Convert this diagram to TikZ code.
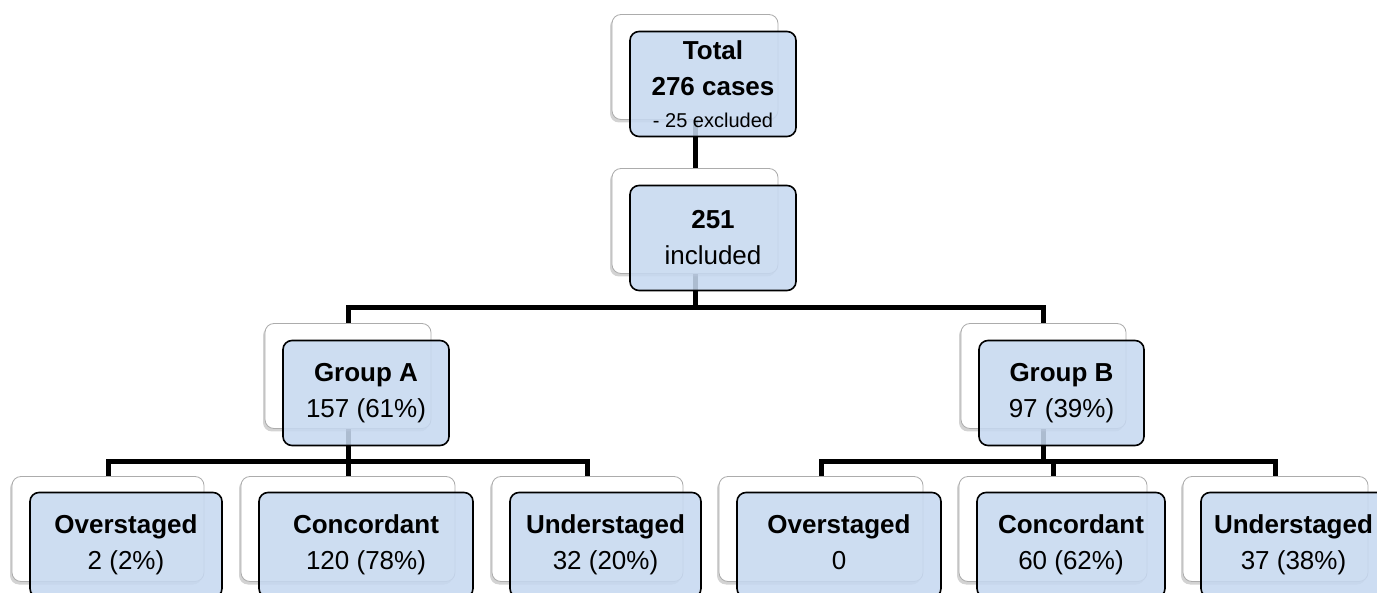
\documentclass[tikz,border=0pt]{standalone}
\usepackage{fontspec}
\setmainfont{Liberation Sans}
\usetikzlibrary{positioning, shadows}
\definecolor{boxblue}{RGB}{198,216,240}
\pgfdeclarelayer{background}
\pgfsetlayers{background,main}

\begin{document}
\begin{tikzpicture}[x=1pt,y=-1pt,font=\fontsize{26}{36}\selectfont]

		\tikzset{node back/.style={rectangle, rounded corners=9pt,
				draw=gray!65, line width=0.8pt,
				fill=white, minimum height=105pt,
				drop shadow={shadow xshift=-2pt, shadow yshift=-3pt, opacity=0.35}}}
		\tikzset{node front/.style={rectangle, rounded corners=9pt,
				draw=black, line width=1.6pt,
				fill=boxblue, fill opacity=0.87, text opacity=1,
				minimum height=105pt, inner sep=0pt, align=center}}
		\tikzset{link/.style={draw=black, line width=5pt}}

	\useasboundingbox (0,0) rectangle (1377,593);
	\clip (0,0) rectangle (1377,593);

	% back boxes
	\node[node back, minimum width=166pt] (Totb) at (695,67) {};
	\node[node back, minimum width=166pt] (Incb) at (695,221) {};
	\node[node back, minimum width=166pt] (GrAb) at (348,376) {};
	\node[node back, minimum width=165pt] (GrBb) at (1043.5,376) {};
	\node[node back, minimum width=192pt] (OvAb) at (108,529) {};
	\node[node back, minimum width=214pt] (CoAb) at (348,529) {};
	\node[node back, minimum width=191pt] (UnAb) at (587.5,529) {};
	\node[node back, minimum width=204pt] (OvBb) at (821,529) {};
	\node[node back, minimum width=188pt] (CoBb) at (1053,529) {};
	\node[node back, minimum width=185pt] (UnBb) at (1275.5,529) {};

	\coordinate (j0) at (695,308);
	\coordinate (jA) at (348,462);
	\coordinate (jB) at (1043.5,462);

	\begin{pgfonlayer}{background}
	\draw[link] (Totb.center) -- (Incb.center);
	\draw[link] (Incb.center) -- (j0) -| (GrAb.center);
	\draw[link] (j0) -| (GrBb.center);
	\draw[link] (GrAb.center) -- (jA) -| (OvAb.center);
	\draw[link] (jA) -- (CoAb.center);
	\draw[link] (jA) -| (UnAb.center);
	\draw[link] (GrBb.center) -- (jB) -| (OvBb.center);
	\draw[link] (jB) -| (CoBb.center);
	\draw[link] (jB) -| (UnBb.center);
	\end{pgfonlayer}

	% front boxes
	\node[node front, minimum width=166pt] (Tot) at ([shift={(18,17)}]Totb)
		{\textbf{Total}\\\textbf{276 cases}\\[-4pt]{\fontsize{20}{24}\selectfont - 25 excluded}};
	\node[node front, minimum width=166pt] (Inc) at ([shift={(18,17)}]Incb) {\textbf{251}\\included};
	\node[node front, minimum width=166pt] (GrA) at ([shift={(18,17)}]GrAb) {\textbf{Group A}\\157 (61\%)};
	\node[node front, minimum width=165pt] (GrB) at ([shift={(18,17)}]GrBb) {\textbf{Group B}\\97 (39\%)};
	\node[node front, minimum width=192pt] (OvA) at ([shift={(18,16)}]OvAb) {\textbf{Overstaged}\\2 (2\%)};
	\node[node front, minimum width=214pt] (CoA) at ([shift={(18,16)}]CoAb) {\textbf{Concordant}\\120 (78\%)};
	\node[node front, minimum width=191pt] (UnA) at ([shift={(18,16)}]UnAb) {\textbf{Understaged}\\32 (20\%)};
	\node[node front, minimum width=204pt] (OvB) at ([shift={(18,16)}]OvBb) {\textbf{Overstaged}\\0\vphantom{(}};
	\node[node front, minimum width=188pt] (CoB) at ([shift={(18,16)}]CoBb) {\textbf{Concordant}\\60 (62\%)};
	\node[node front, minimum width=185pt] (UnB) at ([shift={(18,16)}]UnBb) {\textbf{Understaged}\\37 (38\%)};
	\end{tikzpicture}
\end{document}
